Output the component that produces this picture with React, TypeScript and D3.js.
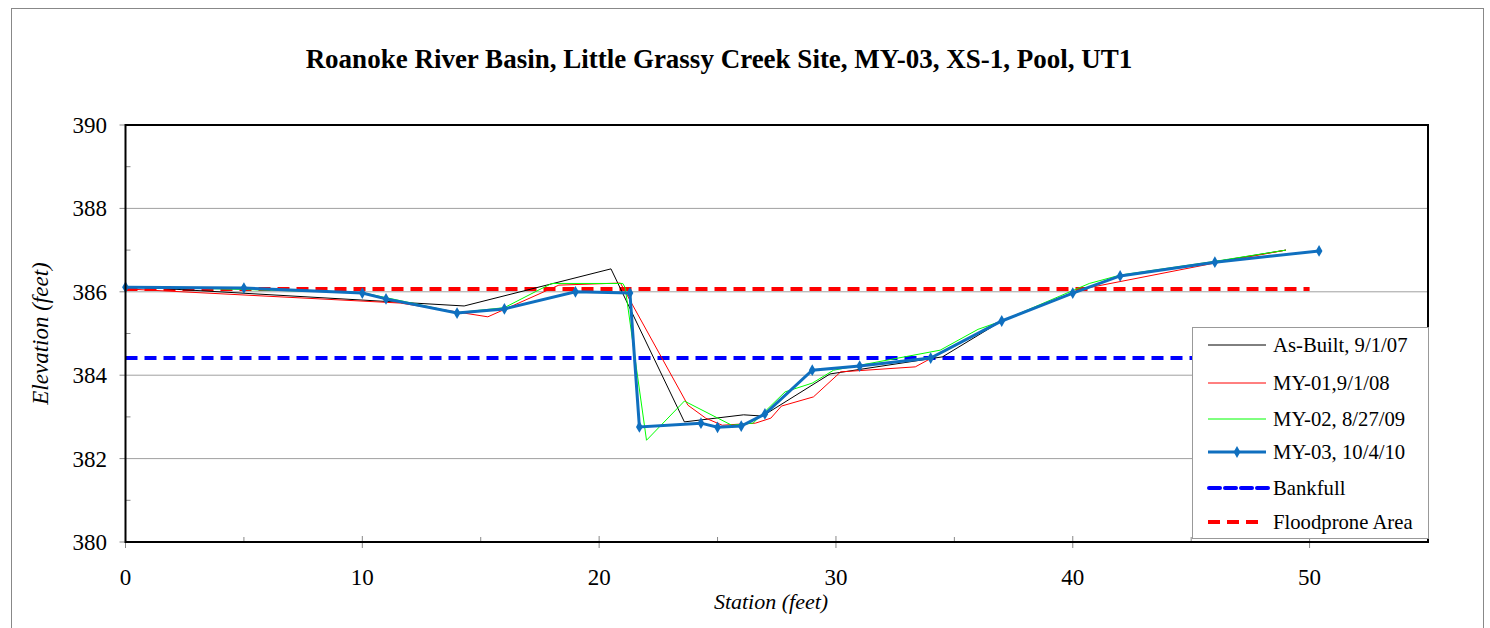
import React from "react";
import * as d3 from "d3";

const title = "Roanoke River Basin, Little Grassy Creek Site, MY-03, XS-1, Pool, UT1";

const asBuiltX = [0, 14.3, 20.5, 23.6, 26.1, 26.9, 29.75, 34.5, 37, 40, 42, 46, 49];
const asBuiltY = [386.13, 385.66, 386.55, 382.88, 383.05, 383.02, 384.03, 384.44, 385.3, 385.97, 386.38, 386.72, 387.0];

const my01X = [0, 11.6, 15.3, 18.3, 20.9, 23.75, 24.5, 25.2, 26.6, 27.25, 27.7, 29.05, 30.2, 33.35, 34, 37, 40.6, 46, 49];
const my01Y = [386.07, 385.73, 385.4, 386.16, 386.21, 383.28, 382.97, 382.8, 382.85, 382.97, 383.26, 383.48, 384.08, 384.2, 384.4, 385.3, 386.09, 386.69, 387.0];

const my02X = [0, 10, 14, 16, 17.3, 18, 21, 21.1, 22, 23.6, 25.6, 26.5, 27.85, 29, 29.9, 34.4, 36, 37, 40.7, 42, 46, 49];
const my02Y = [386.13, 385.98, 385.5, 385.62, 386.0, 386.2, 386.2, 386.1, 382.44, 383.38, 382.8, 382.85, 383.6, 383.81, 384.12, 384.6, 385.1, 385.3, 386.2, 386.4, 386.73, 387.0];

const my03X = [0, 5, 10, 11, 14, 16, 19, 21.3, 21.7, 24.3, 25, 26, 27, 29, 31, 34, 37, 40, 42, 46, 50.4];
const my03Y = [386.11, 386.09, 385.97, 385.83, 385.49, 385.59, 386.0, 385.97, 382.76, 382.85, 382.75, 382.78, 383.07, 384.12, 384.22, 384.41, 385.3, 385.97, 386.38, 386.71, 386.98];

const bankfullX = [0, 50];
const bankfullY = [384.41, 384.41];
const floodX = [0, 50];
const floodY = [386.07, 386.07];

const xTicks = [0, 10, 20, 30, 40, 50];
const yTicks = [380, 382, 384, 386, 388, 390];

const legendLabels = ["As-Built, 9/1/07", "MY-01,9/1/08", "MY-02, 8/27/09", "MY-03, 10/4/10", "Bankfull", "Floodprone Area"];

const FONT = "'Liberation Serif', 'Times New Roman', 'DejaVu Serif', serif";
const BLUE = "#0F6FBF";

export default function App() {
  const left = 125.5, right = 1428, top = 125, bottom = 542;
  const x = d3.scaleLinear().domain([0, 55]).range([left, right]);
  const y = d3.scaleLinear().domain([380, 390]).range([bottom, top]);
  const line = d3.line<[number, number]>().x((d) => x(d[0])).y((d) => y(d[1]));
  const pts = (xs: number[], ys: number[]) => xs.map((v, i) => [v, ys[i]] as [number, number]);

  const minorX = d3.range(5, 55, 10);
  const minorY = d3.range(381, 390, 1);

  const diamond = d3.symbol().type(d3.symbolDiamond).size(40)();

  const legX = 1192, legY = 327, legW = 236, legH = 211;
  const rowY = [345, 383, 419, 452, 488, 522];

  return (
    <svg width={1490} height={628} style={{ display: "block", position: "absolute", left: 0, top: 0, fontFamily: FONT }}>
      <rect x={0} y={0} width={1490} height={628} fill="#fff" />
      <rect x={11.5} y={8.5} width={1472} height={640} fill="none" stroke="#888" strokeWidth={1} />
      <text x={719} y={68} textAnchor="middle" fontSize={27} fontWeight="bold" style={{ fontFamily: FONT }}>{title}</text>

      {yTicks.filter((t) => t !== 380 && t !== 390).map((t) => (
        <line key={t} x1={left} x2={right} y1={y(t)} y2={y(t)} stroke="#a0a0a0" strokeWidth={1} />
      ))}

      {minorX.map((t) => (
        <line key={"mx" + t} x1={x(t)} x2={x(t)} y1={bottom} y2={bottom - 5} stroke="#888" />
      ))}
      {minorY.filter((t) => t % 2 === 1).map((t) => (
        <line key={"my" + t} x1={left} x2={left + 5} y1={y(t)} y2={y(t)} stroke="#888" />
      ))}
      {xTicks.map((t) => (
        <line key={"tx" + t} x1={x(t)} x2={x(t)} y1={bottom - 6} y2={bottom + 6} stroke="#888" />
      ))}
      {yTicks.map((t) => (
        <line key={"ty" + t} x1={left - 6} x2={left} y1={y(t)} y2={y(t)} stroke="#888" />
      ))}

      <path d={line(pts(floodX, floodY)) || ""} fill="none" stroke="#FF0000" strokeWidth={4} strokeDasharray="12 7" />
      <path d={line(pts(bankfullX, bankfullY)) || ""} fill="none" stroke="#0000FF" strokeWidth={4} strokeDasharray="12 7" />
      <path d={line(pts(asBuiltX, asBuiltY)) || ""} fill="none" stroke="#000" strokeWidth={1} />
      <path d={line(pts(my01X, my01Y)) || ""} fill="none" stroke="#FF0000" strokeWidth={1} />
      <path d={line(pts(my02X, my02Y)) || ""} fill="none" stroke="#00FF00" strokeWidth={1} />
      <path d={line(pts(my03X, my03Y)) || ""} fill="none" stroke={BLUE} strokeWidth={3} />
      {my03X.map((v, i) => (
        <path key={"d" + i} d={diamond || ""} transform={`translate(${x(v)},${y(my03Y[i])})`} fill={BLUE} />
      ))}

      <rect x={left} y={top} width={right - left} height={bottom - top} fill="none" stroke="#000" strokeWidth={2} />

      {xTicks.map((t) => (
        <text key={"lx" + t} x={x(t)} y={585} textAnchor="middle" fontSize={23} style={{ fontFamily: FONT }}>{t}</text>
      ))}
      {yTicks.map((t) => (
        <text key={"ly" + t} x={107} y={y(t) + 8} textAnchor="end" fontSize={23} style={{ fontFamily: FONT }}>{t}</text>
      ))}

      <text x={771} y={609} textAnchor="middle" fontSize={22} fontStyle="italic" style={{ fontFamily: FONT }}>Station (feet)</text>
      <text transform={`translate(48,${(top + bottom) / 2}) rotate(-90)`} textAnchor="middle" fontSize={23} fontStyle="italic" style={{ fontFamily: FONT }}>Elevation (feet)</text>

      <rect x={legX + 0.5} y={legY + 0.5} width={legW} height={legH} fill="#fff" stroke="#999" strokeWidth={1} />
      {legendLabels.map((lab, i) => {
        const ry = rowY[i];
        let sample: React.ReactNode = null;
        if (i === 0) sample = <line x1={1208} x2={1266} y1={ry} y2={ry} stroke="#000" strokeWidth={1} />;
        if (i === 1) sample = <line x1={1208} x2={1266} y1={ry} y2={ry} stroke="#FF0000" strokeWidth={1} />;
        if (i === 2) sample = <line x1={1208} x2={1266} y1={ry} y2={ry} stroke="#00FF00" strokeWidth={1} />;
        if (i === 3)
          sample = (
            <g>
              <line x1={1208} x2={1266} y1={ry} y2={ry} stroke={BLUE} strokeWidth={3} />
              <path d={diamond || ""} transform={`translate(1237,${ry})`} fill={BLUE} />
            </g>
          );
        if (i === 4) sample = <line x1={1209} x2={1268} y1={ry} y2={ry} stroke="#0000FF" strokeWidth={4} strokeDasharray="11 5" strokeLinecap="round" />;
        if (i === 5) sample = <line x1={1208} x2={1258} y1={ry} y2={ry} stroke="#FF0000" strokeWidth={4} strokeDasharray="12 7" />;
        return (
          <g key={lab}>
            {sample}
            <text x={1273} y={ry + 7} fontSize={20.7} style={{ fontFamily: FONT }}>{lab}</text>
          </g>
        );
      })}
    </svg>
  );
}
